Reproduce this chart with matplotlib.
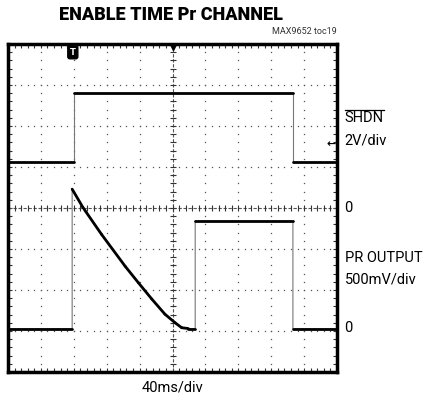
import numpy as np
import matplotlib.pyplot as plt
from matplotlib.ticker import MultipleLocator

# scope screen, in divisions (10 x 8, centre at 0)
shdn_t = [0.0, 2.0, 2.0, 8.66, 8.66, 10.0]
shdn_v = [1.12, 1.12, 2.80, 2.80, 1.12, 1.12]

pr_t = [0.0, 1.95, 1.95, 2.28, 2.84, 3.56, 3.96, 4.37, 4.77, 5.08, 5.28, 5.48, 5.69,
        5.69, 8.66, 8.66, 10.0]
pr_v = [-2.95, -2.95, 0.46, 0.01, -0.64, -1.42, -1.82, -2.22, -2.59, -2.80, -2.92,
        -2.94, -2.94, -0.32, -0.32, -2.95, -2.95]

right_labels = [("2V/div", 1.65), ("0", 0.0), ("PR OUTPUT", -1.22),
                ("500mV/div", -1.75), ("0", -2.93)]

FONT = "Roboto"

fig = plt.figure(figsize=(4.25, 4.05), dpi=100)
ax = fig.add_axes([8 / 425, 33 / 405, 329 / 425, 328 / 405])
ax.set_xlim(0, 10)
ax.set_ylim(-4, 4)

# dotted graticule
fine = np.arange(0, 10.01, 0.2)
fine_y = np.arange(-4, 4.01, 0.2)
for gx in range(1, 10):
    if gx == 5:
        continue
    ax.plot(np.full_like(fine_y, gx), fine_y, ls="none", marker="s", ms=0.9,
            color="#555555", mew=0)
for gy in range(-3, 4):
    if gy == 0:
        continue
    ax.plot(fine, np.full_like(fine, gy), ls="none", marker="s", ms=0.9,
            color="#555555", mew=0)

# centre crosshair with ticks
ax.axhline(0, color="#555555", lw=0.8, ls=(0, (3, 1.5)))
ax.axvline(5, color="#555555", lw=0.8, ls=(0, (3, 1.5)))
ax.plot(fine, np.zeros_like(fine), ls="none", marker="|", ms=4, color="#333333", mew=0.8)
ax.plot(np.full_like(fine_y, 5), fine_y, ls="none", marker="_", ms=4, color="#333333", mew=0.8)


def draw_trace(t, v):
    ax.plot(t, v, color="#777777", lw=0.8, zorder=3)
    for i in range(len(t) - 1):
        if t[i + 1] != t[i]:
            ax.plot(t[i:i + 2], v[i:i + 2], color="black", lw=2.0,
                    solid_capstyle="round", zorder=4)


draw_trace(shdn_t, shdn_v)
draw_trace(pr_t, pr_v)

# markers
ax.text(1.97, 3.8, "T", ha="center", va="center", color="white", fontsize=6,
        fontweight="bold", zorder=5,
        bbox=dict(boxstyle="round,pad=0.25", fc="black", ec="black"))
ax.plot([5], [3.93], marker="v", color="black", ms=4, zorder=5)
ax.text(9.97, 1.55, "\u2190", ha="right", va="center", fontsize=8,
        fontweight="bold", color="black", family="DejaVu Sans")

ax.xaxis.set_major_locator(MultipleLocator(1))
ax.xaxis.set_minor_locator(MultipleLocator(0.2))
ax.yaxis.set_major_locator(MultipleLocator(1))
ax.yaxis.set_minor_locator(MultipleLocator(0.2))
ax.tick_params(which="both", direction="in", top=True, right=True, length=3,
               width=0.8, color="#333333", labelbottom=False, labelleft=False)
for s in ax.spines.values():
    s.set_linewidth(2.5)

# texts
fig.text(171 / 425, 1 - 15 / 405, "ENABLE TIME Pr CHANNEL", ha="center", va="center",
         fontsize=13, fontweight="heavy", family=FONT)
fig.text(337 / 425, 1 - 31 / 405, "MAX9652 toc19", ha="right", va="center",
         fontsize=6.5, color="#333333", family=FONT)
shdn = ax.text(10.23, 2.2, "SHDN", ha="left", va="center", fontsize=10.5,
               clip_on=False, family=FONT)
fig.canvas.draw()
bb = shdn.get_window_extent().transformed(ax.transData.inverted())
ax.plot([bb.x0, bb.x1], [bb.y1 + 0.02, bb.y1 + 0.02], color="black", lw=0.9, clip_on=False)
for label, yv in right_labels:
    ax.text(10.23, yv, label, ha="left", va="center", fontsize=10.5,
            clip_on=False, family=FONT)
fig.text(172 / 425, 1 - 388 / 405, "40ms/div", ha="center", va="center",
         fontsize=10.5, family=FONT)

fig.savefig("out.png", dpi=100)
